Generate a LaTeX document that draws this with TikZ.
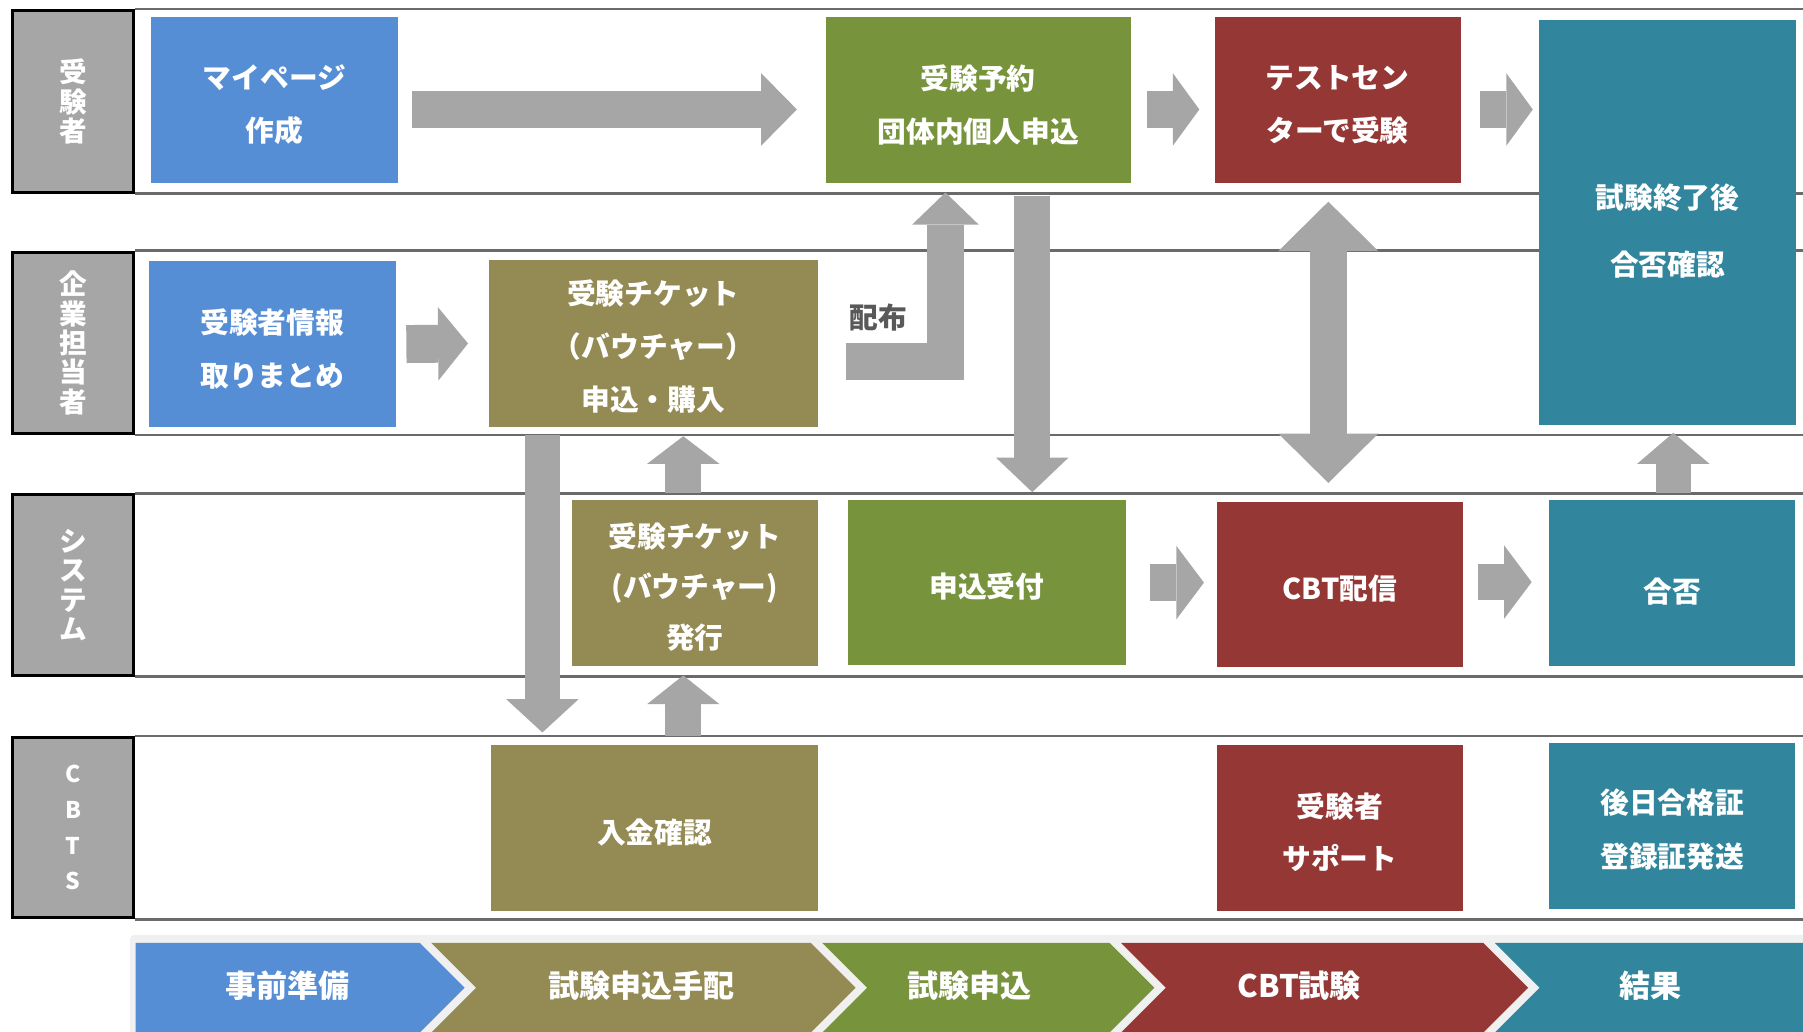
\documentclass[tikz,border=0pt]{standalone}
\usepackage{fontspec}
\newfontfamily\jp{Noto Sans CJK JP}
\usetikzlibrary{arrows.meta}
\definecolor{cblue}{HTML}{558ED5}
\definecolor{colive}{HTML}{948A54}
\definecolor{cgreen}{HTML}{77933C}
\definecolor{cred}{HTML}{953735}
\definecolor{cteal}{HTML}{31859C}
\definecolor{agray}{HTML}{A6A6A6}
\definecolor{lgray}{HTML}{A6A6A6}
\definecolor{cstrip}{HTML}{F0F0F0}
\definecolor{lline}{HTML}{6A6A6A}
\definecolor{tgray}{HTML}{595959}
\tikzset{
  box/.style={rectangle, anchor=north west, inner sep=0pt},
  txt/.style={inner sep=0pt, text=white, align=center,
    font=\jp\bfseries\fontsize{25}{46}\selectfont},
  lanelab/.style={rectangle, anchor=north west, fill=lgray, draw=black, line width=2.5pt,
    minimum width=105pt, inner sep=0pt, text=white, align=center,
    font=\jp\bfseries\fontsize{24}{25.5}\selectfont},
  laneline/.style={draw=lline, line width=2.2pt},
  barrow/.style={draw=agray, line width=32pt},
  hd/.style 2 args={-{Triangle[width=#1,length=#2,line width=0pt]}},
  dhd/.style 2 args={{Triangle[width=#1,length=#2,line width=0pt]}-{Triangle[width=#1,length=#2,line width=0pt]}},
  phase/.style={text=white, font=\jp\bfseries\fontsize{27}{30}\selectfont},
}
\begin{document}
\begin{tikzpicture}[x=1pt,y=-1pt]
\useasboundingbox[fill=white] (0,0) rectangle (1568,897);
% phase strip
\fill[cstrip, rounded corners=4pt] (113,813) rectangle (1575,905);
\fill[cblue] (118,820) -- (365,820) -- (404,859) -- (365,898) -- (118,898) -- cycle;
\fill[colive] (375,820) -- (705,820) -- (744,859) -- (705,898) -- (375,898) -- (414,859) -- cycle;
\fill[cgreen] (715,820) -- (965,820) -- (1004,859) -- (965,898) -- (715,898) -- (754,859) -- cycle;
\fill[cred] (975,820) -- (1290,820) -- (1329,859) -- (1290,898) -- (975,898) -- (1014,859) -- cycle;
\fill[cteal] (1300,820) -- (1575,820) -- (1575,898) -- (1300,898) -- (1339,859) -- cycle;
\node[phase] (ph1) at (250,857) {事前準備};
\node[phase] (ph2) at (558,857) {試験申込手配};
\node[phase] (ph3) at (843,857) {試験申込};
\node[phase] (ph4) at (1130,857) {CBT試験};
\node[phase] (ph5) at (1435,857) {結果};
% lanes
\node[lanelab, minimum height=158pt] (lab1) at (10,8) {受\\験\\者};
\node[lanelab, minimum height=158pt] (lab2) at (10,218) {企\\業\\担\\当\\者};
\node[lanelab, minimum height=157pt] (lab3) at (10,429) {シ\\ス\\テ\\ム};
\node[lanelab, minimum height=157pt, font=\jp\bfseries\fontsize{20}{31}\selectfont] (lab4) at (10,640) {C\\B\\T\\S};
\foreach \l in {lab1,lab2,lab3,lab4}{
  \draw[laneline] (\l.north east) -- ++(1465,0);
  \draw[laneline] (\l.south east) -- ++(1465,0);
}
% boxes
\node[box, fill=cblue, minimum width=215pt, minimum height=144pt] (mypage) at (131,15) {};
\node[box, fill=cgreen, minimum width=265pt, minimum height=144pt] (yoyaku) at (718,15) {};
\node[box, fill=cred, minimum width=214pt, minimum height=144pt] (test) at (1056,15) {};
\node[box, fill=cteal, minimum width=224pt, minimum height=352pt] (shuryo) at (1338,17) {};
\node[box, fill=cblue, minimum width=215pt, minimum height=144pt] (jouhou) at (129,227) {};
\node[box, fill=colive, minimum width=286pt, minimum height=145pt] (tickbuy) at (425,226) {};
\node[box, fill=colive, minimum width=214pt, minimum height=144pt] (tickiss) at (497,435) {};
\node[box, fill=cgreen, minimum width=242pt, minimum height=143pt] (uketsuke) at (737,435) {};
\node[box, fill=cred, minimum width=214pt, minimum height=144pt] (cbt) at (1058,436) {};
\node[box, fill=cteal, minimum width=214pt, minimum height=144pt] (gouhi) at (1347,435) {};
\node[box, fill=colive, minimum width=284pt, minimum height=144pt] (nyukin) at (427,648) {};
\node[box, fill=cred, minimum width=214pt, minimum height=144pt] (support) at (1058,648) {};
\node[box, fill=cteal, minimum width=214pt, minimum height=144pt] (goujitsu) at (1347,646) {};
% box texts
\node[txt] (mypage-t) at ([yshift=-4pt]mypage.center) {マイページ\\作成};
\node[txt] (yoyaku-t) at ([yshift=-4pt]yoyaku.center) {受験予約\\団体内個人申込};
\node[txt] (test-t) at ([yshift=-4pt]test.center) {テストセン\\ターで受験};
\node[txt, font=\jp\bfseries\fontsize{25}{58}\selectfont] (shuryo-t) at ([yshift=-8pt]shuryo.center) {試験終了後\\合否確認};
\node[txt] (jouhou-t) at ([yshift=-4pt]jouhou.center) {受験者情報\\取りまとめ};
\node[txt] (tickbuy-t) at ([yshift=-2.5pt]tickbuy.center) {受験チケット\\（バウチャー）\\申込・購入};
\node[txt, font=\jp\bfseries\fontsize{25}{44}\selectfont] (tickiss-t) at ([yshift=-3pt]tickiss.center) {受験チケット\\(バウチャー)\\発行};
\node[txt] (uketsuke-t) at ([yshift=-3.5pt]uketsuke.center) {申込受付};
\node[txt] (cbt-t) at ([yshift=-4pt]cbt.center) {CBT配信};
\node[txt] (gouhi-t) at ([yshift=-7pt]gouhi.center) {合否};
\node[txt] (nyukin-t) at ([yshift=-4pt]nyukin.center) {入金確認};
\node[txt, font=\jp\bfseries\fontsize{25}{45}\selectfont] (support-t) at ([yshift=-3.5pt]support.center) {受験者\\サポート};
\node[txt, font=\jp\bfseries\fontsize{25}{47}\selectfont] (goujitsu-t) at ([yshift=-3.5pt]goujitsu.center) {後日合格証\\登録証発送};
\node[text=tgray, font=\jp\bfseries\fontsize{25}{30}\selectfont] (haifu) at (764,276) {配布};
% arrows
\draw[barrow, hd={63pt}{31pt}] ([xshift=12pt,yshift=-8pt]mypage.east) -- ([xshift=-25pt,yshift=-8pt]yoyaku.west);
\draw[barrow, hd={63pt}{23pt}] ([xshift=14pt,yshift=-8pt]yoyaku.east) -- ([xshift=-13pt,yshift=-8pt]test.west);
\draw[barrow, hd={63pt}{23pt}] ([xshift=17pt,yshift=-8pt]test.east) -- ([xshift=-5pt,yshift=98pt]shuryo.west);
\draw[barrow, line width=33pt, hd={64pt}{26pt}] ([xshift=9pt]jouhou.east) -- ([xshift=-18pt]tickbuy.west);
\draw[barrow, line join=miter, hd={58pt}{28pt}] ([xshift=24pt,yshift=-16pt]tickbuy.east) -| ([xshift=-28.5pt,yshift=-8pt]yoyaku.south);
\draw[barrow, line width=31pt, hd={63pt}{30pt}] ([xshift=47pt,yshift=-11pt]yoyaku.south) -- ([xshift=39.5pt,yshift=7pt]uketsuke.north);
\draw[barrow, dhd={87pt}{43pt}] ([xshift=-8pt,yshift=-16pt]test.south) -- ([xshift=-10pt,yshift=16pt]cbt.north);
\draw[barrow, line width=30pt, hd={63pt}{27pt}] ([xshift=1pt,yshift=6pt]gouhi.north) -- ([xshift=5pt,yshift=-7pt]shuryo.south);
\draw[barrow, line width=31pt, hd={63pt}{29pt}] ([xshift=-96.5pt,yshift=-7pt]tickbuy.south) -- ([xshift=-97.5pt,yshift=11pt]nyukin.north);
\draw[barrow, line width=31pt, hd={63pt}{24pt}] ([xshift=-10pt,yshift=6pt]tickiss.north) -- ([xshift=26pt,yshift=-8pt]tickbuy.south);
\draw[barrow, line width=31pt, hd={63pt}{25pt}] ([xshift=25pt,yshift=8pt]nyukin.north) -- ([xshift=-10pt,yshift=-8pt]tickiss.south);
\draw[barrow, hd={64pt}{24pt}] ([xshift=21pt]uketsuke.east) -- ([xshift=-11pt,yshift=1.5pt]cbt.west);
\draw[barrow, hd={64pt}{24pt}] ([xshift=13pt,yshift=2pt]cbt.east) -- ([xshift=-15pt,yshift=1pt]gouhi.west);
\end{tikzpicture}
\end{document}
